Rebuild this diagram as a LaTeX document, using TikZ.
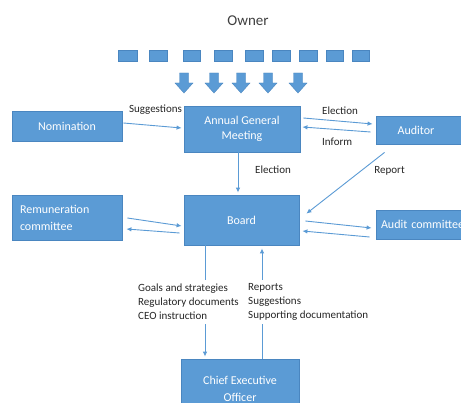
\documentclass[tikz,border=0pt]{standalone}
\usepackage{fontspec}
\setmainfont{Carlito}
\usetikzlibrary{calc,arrows.meta}
\definecolor{boxblue}{HTML}{5B9BD5}
\definecolor{boxedge}{HTML}{4A86C0}
\definecolor{linkblue}{HTML}{5B9BD5}
\tikzset{
  x=1pt, y=-1pt,
  box/.style={draw=boxedge, fill=boxblue, line width=0.8pt, text=white, inner sep=0pt,
    font=\fontsize{12}{15}\selectfont, align=center},
  sq/.style={draw=boxedge, fill=boxblue, line width=0.6pt, inner sep=0pt, minimum height=11pt},
  link/.style={draw=linkblue, line width=0.9pt, -{Latex[length=5pt,width=4.5pt]}},
  lbl/.style={font=\fontsize{11}{14}\selectfont, text=black!85, inner sep=0pt},
  blockarrow/.style={fill=boxblue, draw=boxedge, line width=0.4pt}
}
\begin{document}
\begin{tikzpicture}
\useasboundingbox (0,0) rectangle (461,403);
\clip (0,0) rectangle (461,403);
\fill[white] (0,0) rectangle (461,403);

% title
\node[font=\fontsize{15}{17}\selectfont, text=black!75, inner sep=0pt] (owner) at (248,21) {Owner};

% owner squares
\foreach \cx/\w [count=\i] in {127.5/19,158/18,191.5/17,223/18,254/18,281/18,308/18,334.5/17,360.5/17}
  \node[sq, minimum width=\w pt] (s\i) at (\cx,56) {};

% block arrows
\foreach \cx [count=\i] in {184,214,241,268,298}
  \filldraw[blockarrow] (\cx-4.5,73) -- (\cx+4.5,73) -- (\cx+4.5,83) -- (\cx+9,83)
     -- (\cx,93) -- (\cx-9,83) -- (\cx-4.5,83) -- cycle;

% boxes
\node[box, minimum width=110pt, minimum height=30pt] (nom) at (67,126) {Nomination};
\node[box, minimum width=116pt, minimum height=46pt] (agm) at (242,129) {Annual General\\Meeting};
\node[box, minimum width=90pt, minimum height=28pt] (aud) at (421,130) {\hspace*{-10pt}Auditor};
\node[box, minimum width=110pt, minimum height=45pt, align=left, text width=94pt,
      font=\fontsize{12}{17}\selectfont] (rem) at (67,217.5) {Remuneration\\committee};
\node[box, minimum width=115pt, minimum height=50pt] (board) at (241.5,220) {Board};
\node[box, minimum width=100pt, minimum height=29pt, align=left, text width=90pt] (ac) at (426,224.5) {Audit committee};
\node[box, minimum width=118pt, minimum height=60pt, font=\fontsize{12}{17}\selectfont] (ceo) at (240,389) {Chief Executive\\Officer};

% connectors
\draw[link] ($(nom.east)+(1,-3)$) -- ($(agm.west)+(-2,-1)$);
\draw[link] ($(agm.east)+(3,-11)$) -- ($(aud.west)+(-3,-6)$);
\draw[link] ($(aud.west)+(-5,2)$) -- ($(agm.east)+(2,-2)$);
\draw[link] ($(agm.south)+(-4,0)$) -- ($(board.north)+(-3.5,-2)$);
\draw[link] ($(aud.south west)+(9,8)$) -- ($(board.north east)+(7,19)$);
\draw[link] ($(board.east)+(6,1)$) -- ($(ac.west)+(-4,3.5)$);
\draw[link] ($(ac.west)+(-6,12.5)$) -- ($(board.east)+(3,11)$);
\draw[link] ($(rem.east)+(5,0.5)$) -- ($(board.west)+(-2,6)$);
\draw[link] ($(board.west)+(-4,13)$) -- ($(rem.east)+(4,11.5)$);
\draw[link] ($(board.south)+(-36.5,0)$) -- ($(ceo.north)+(-35,-2)$);
\draw[link] ($(ceo.north)+(22,0)$) -- ($(board.south)+(20.5,3)$);

% labels
\node[lbl] (lsug) at (155.5,110) {Suggestions};
\node[lbl, anchor=west] (lel1) at (322,111) {Election};
\node[lbl, anchor=west] (linf) at (322,142) {Inform};
\node[lbl] (lel2) at (273,170) {Election};
\node[lbl] (lrep) at (389.5,171) {Report};
\node[lbl, anchor=west, align=left, fill=white, inner ysep=4pt] (ldown) at (138,302)
  {Goals and strategies\\Regulatory documents\\CEO instruction};
\node[lbl, anchor=west, align=left, fill=white, inner ysep=4pt] (lup) at (248,302)
  {Reports\\Suggestions\\Supporting documentation};
\end{tikzpicture}
\end{document}
